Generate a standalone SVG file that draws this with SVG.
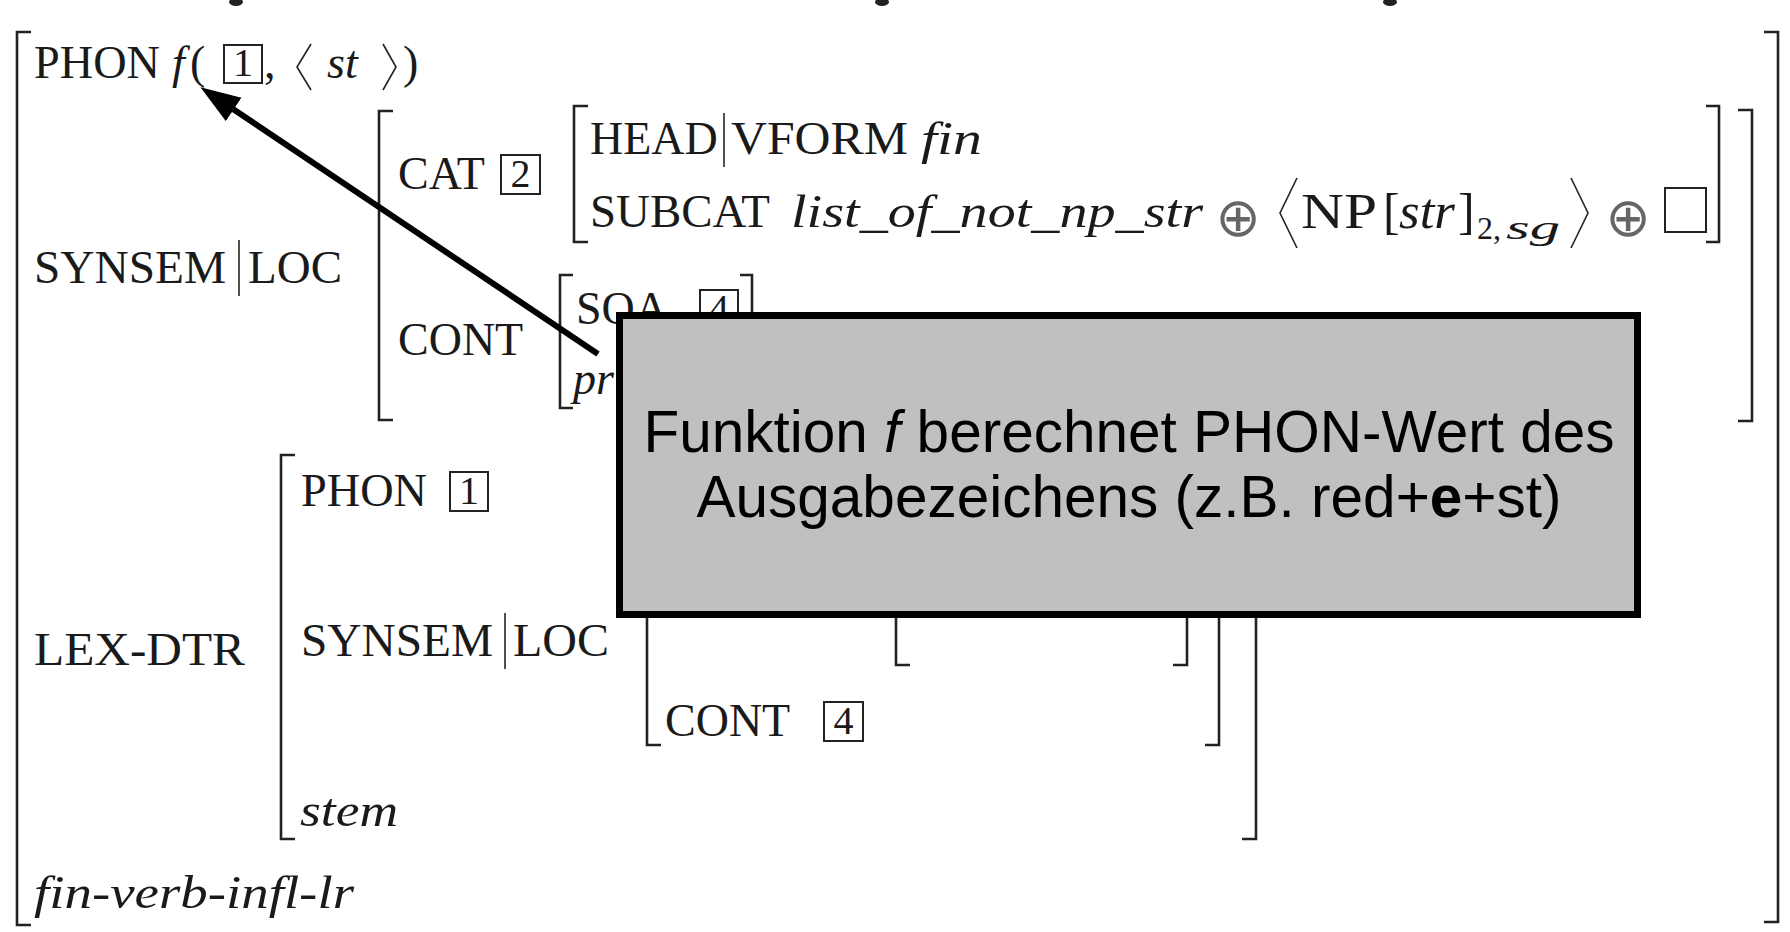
<svg xmlns="http://www.w3.org/2000/svg" width="1790" height="932" viewBox="0 0 1790 932">
<style>
.t{font-family:"Liberation Serif","Times New Roman",serif;font-size:46px;fill:#1a1a1a}
.i{font-style:italic}
.d{font-size:40px;text-anchor:middle}
.br{fill:none;stroke:#222;stroke-width:2.6}
.bar{fill:none;stroke:#222;stroke-width:1.6}
.bx{fill:none;stroke:#222;stroke-width:2}
.op{font-family:"DejaVu Sans",sans-serif;font-size:54px;fill:#666;text-anchor:middle}
.lbl{font-family:"Liberation Sans",Arial,sans-serif;font-size:58.5px;fill:#000;text-anchor:middle}
</style>
<defs>
<marker id="ah" markerUnits="userSpaceOnUse" markerWidth="42" markerHeight="30" refX="8" refY="14" orient="auto">
<path d="M0,0 L40,14 L0,28 z" fill="#000"/>
</marker>
</defs>
<rect width="1790" height="932" fill="#fff"/>
<g id="top-marks" fill="#222">
<ellipse cx="236" cy="2" rx="7" ry="4"/>
<ellipse cx="882" cy="2" rx="7" ry="4"/>
<ellipse cx="1390" cy="2" rx="7" ry="4"/>
</g>
<g id="outer-avm">
<path class="br" d="M31,32 H17 V925 H31"/>
<path class="br" d="M1764,32 H1778 V922 H1764"/>
<text class="t i" x="34" y="908" textLength="320" lengthAdjust="spacingAndGlyphs">fin-verb-infl-lr</text>
</g>
<g id="phon-row">
<text class="t" x="34" y="78" textLength="126" lengthAdjust="spacingAndGlyphs">PHON</text>
<text class="t i" x="172" y="78">f</text>
<text class="t" x="190" y="78">(</text>
<rect class="bx" x="224" y="45" width="38" height="38"/>
<text class="t d" x="243" y="76">1</text>
<text class="t" x="264" y="78">,</text>
<polyline class="bar" points="311,44 297,67 311,90"/>
<text class="t i" x="327" y="78">st</text>
<polyline class="bar" points="383,44 396,67 383,90"/>
<text class="t" x="403" y="78">)</text>
</g>
<g id="synsem-loc">
<text class="t" x="34" y="283" textLength="192" lengthAdjust="spacingAndGlyphs">SYNSEM</text>
<path class="bar" d="M239,240 V296"/>
<text class="t" x="248" y="283" textLength="94" lengthAdjust="spacingAndGlyphs">LOC</text>
<path class="br" d="M393,111 H379 V420 H393"/>
<path class="br" d="M1738,110 H1752 V421 H1738"/>
<text class="t" x="398" y="189">CAT</text>
<rect class="bx" x="501" y="155" width="39" height="39"/>
<text class="t d" x="520.5" y="187">2</text>
<path class="br" d="M588,106 H574 V242 H588"/>
<path class="br" d="M1706,106 H1719 V242 H1706"/>
<text class="t" x="590" y="154">HEAD</text>
<path class="bar" d="M724,113 V167"/>
<text class="t" x="731" y="154" textLength="177" lengthAdjust="spacingAndGlyphs">VFORM</text>
<text class="t i" x="921" y="154" textLength="61" lengthAdjust="spacingAndGlyphs">fin</text>
<text class="t" x="590" y="227" textLength="180" lengthAdjust="spacingAndGlyphs">SUBCAT</text>
<text class="t i" x="791" y="227" textLength="412" lengthAdjust="spacingAndGlyphs">list_of_not_np_str</text>
<text class="op" x="1238" y="236">⊕</text>
<polyline class="bar" points="1297,178 1280,213 1297,248"/>
<text class="t" x="1301" y="228" style="font-size:51px" textLength="76" lengthAdjust="spacingAndGlyphs">NP</text>
<text class="t" x="1383" y="228" style="font-size:50px">[</text>
<text class="t i" x="1399" y="228" style="font-size:50px" textLength="56" lengthAdjust="spacingAndGlyphs">str</text>
<text class="t" x="1458" y="228" style="font-size:50px">]</text>
<text class="t" x="1477" y="239" style="font-size:32px">2,</text>
<text class="t i" x="1506" y="239" style="font-size:34px" textLength="54" lengthAdjust="spacingAndGlyphs">sg</text>
<polyline class="bar" points="1571,178 1588,213 1571,248"/>
<text class="op" x="1628" y="236">⊕</text>
<rect class="bx" x="1665" y="188" width="41" height="44"/>
<text class="t" x="398" y="355">CONT</text>
<path class="br" d="M573,275 H560 V408 H573"/>
<path class="br" d="M740,275 H752 V408 H740"/>
<text class="t" x="576" y="324">SOA</text>
<rect class="bx" x="700" y="290" width="38" height="39"/>
<text class="t d" x="719" y="322">4</text>
<text class="t i" x="573" y="394">pr</text>
</g>
<g id="lex-dtr">
<text class="t" x="34" y="665" textLength="211" lengthAdjust="spacingAndGlyphs">LEX-DTR</text>
<path class="br" d="M295,455 H281 V839 H295"/>
<path class="br" d="M1242,455 H1256 V839 H1242"/>
<text class="t" x="301" y="506" textLength="126" lengthAdjust="spacingAndGlyphs">PHON</text>
<rect class="bx" x="450" y="472" width="38" height="39"/>
<text class="t d" x="469" y="504">1</text>
<text class="t" x="301" y="656" textLength="192" lengthAdjust="spacingAndGlyphs">SYNSEM</text>
<path class="bar" d="M505,613 V669"/>
<text class="t" x="513" y="656" textLength="96" lengthAdjust="spacingAndGlyphs">LOC</text>
<path class="br" d="M661,520 H647 V745 H661"/>
<path class="br" d="M1205,520 H1219 V745 H1205"/>
<path class="br" d="M910,560 H896 V665 H910"/>
<path class="br" d="M1173,560 H1187 V665 H1173"/>
<text class="t" x="665" y="736">CONT</text>
<rect class="bx" x="824" y="702" width="39" height="39"/>
<text class="t d" x="843.5" y="734">4</text>
<text class="t i" x="300" y="826" textLength="98" lengthAdjust="spacingAndGlyphs">stem</text>
</g>
<g id="note-box">
<rect x="619.5" y="315.5" width="1018" height="299" fill="#c0c0c0" stroke="#000" stroke-width="7"/>
<text class="lbl" x="1129" y="452">Funktion <tspan font-style="italic">f</tspan> berechnet PHON-Wert des</text>
<text class="lbl" x="1129" y="517">Ausgabezeichens (z.B. red+<tspan font-weight="bold">e</tspan>+st)</text>
</g>
<g id="connectors">
<line x1="598" y1="354" x2="227" y2="105" stroke="#000" stroke-width="6" marker-end="url(#ah)"/>
</g>
</svg>
